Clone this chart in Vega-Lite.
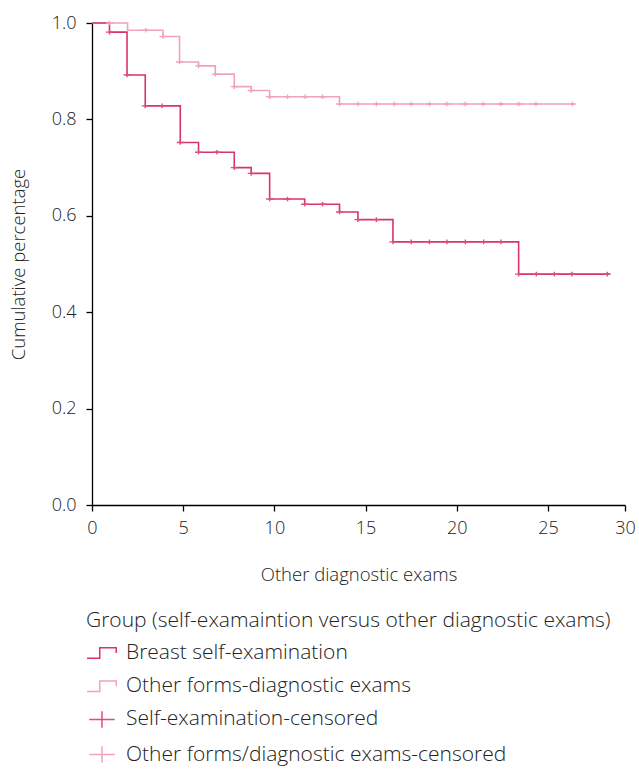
{
  "$schema": "https://vega.github.io/schema/vega-lite/v6.json",
  "autosize": {"type": "none"},
  "padding": {"left": 92, "top": 23, "right": 14, "bottom": 264},
  "width": 533,
  "height": 482,
  "config": {
    "view": {"stroke": null},
    "font": "Open Sans",
    "axis": {"grid": false, "domainColor": "#000", "domainWidth": 1.3, "tickColor": "#000", "tickWidth": 1.3, "tickSize": 6, "labelFont": "Open Sans", "labelFontSize": 18, "labelColor": "#222", "titleFont": "Open Sans", "titleFontSize": 18.5, "titleFontWeight": 300, "titleColor": "#222", "labelFontWeight": 300},
    "legend": {
      "orient": "none", "legendX": -6, "legendY": 587, "direction": "vertical",
      "titleFont": "Open Sans", "titleFontSize": 21, "titleFontWeight": 300, "titleColor": "#222", "titlePadding": 6, "titleLimit": 0,
      "labelFont": "Open Sans", "labelFontSize": 21, "labelFontWeight": 300, "labelColor": "#222", "labelOffset": 8, "labelLimit": 0,
      "symbolSize": 900, "symbolStrokeWidth": 1.5, "rowPadding": 7.2
    }
  },
  "datasets": {
    "steps": [
      {"group": "Other forms-diagnostic exams", "t": 0, "s": 1.0},
      {"group": "Other forms-diagnostic exams", "t": 1.95, "s": 0.985},
      {"group": "Other forms-diagnostic exams", "t": 3.89, "s": 0.972},
      {"group": "Other forms-diagnostic exams", "t": 4.8, "s": 0.919},
      {"group": "Other forms-diagnostic exams", "t": 5.84, "s": 0.911},
      {"group": "Other forms-diagnostic exams", "t": 6.76, "s": 0.894},
      {"group": "Other forms-diagnostic exams", "t": 7.8, "s": 0.868},
      {"group": "Other forms-diagnostic exams", "t": 8.73, "s": 0.86},
      {"group": "Other forms-diagnostic exams", "t": 9.74, "s": 0.847},
      {"group": "Other forms-diagnostic exams", "t": 13.57, "s": 0.832},
      {"group": "Other forms-diagnostic exams", "t": 26.7, "s": 0.832},
      {"group": "Breast self-examination", "t": 0, "s": 1.0},
      {"group": "Breast self-examination", "t": 0.96, "s": 0.981},
      {"group": "Breast self-examination", "t": 1.92, "s": 0.892},
      {"group": "Breast self-examination", "t": 2.92, "s": 0.828},
      {"group": "Breast self-examination", "t": 4.84, "s": 0.752},
      {"group": "Breast self-examination", "t": 5.84, "s": 0.732},
      {"group": "Breast self-examination", "t": 7.8, "s": 0.7},
      {"group": "Breast self-examination", "t": 8.73, "s": 0.688},
      {"group": "Breast self-examination", "t": 9.74, "s": 0.635},
      {"group": "Breast self-examination", "t": 11.66, "s": 0.624},
      {"group": "Breast self-examination", "t": 13.57, "s": 0.608},
      {"group": "Breast self-examination", "t": 14.58, "s": 0.592},
      {"group": "Breast self-examination", "t": 16.5, "s": 0.546},
      {"group": "Breast self-examination", "t": 23.39, "s": 0.479},
      {"group": "Breast self-examination", "t": 29.0, "s": 0.479}
    ],
    "censored": [
      {"group": "Other forms/diagnostic exams-censored", "t": 0.96, "s": 1.0},
      {"group": "Other forms/diagnostic exams-censored", "t": 2.96, "s": 0.985},
      {"group": "Other forms/diagnostic exams-censored", "t": 3.89, "s": 0.972},
      {"group": "Other forms/diagnostic exams-censored", "t": 4.8, "s": 0.919},
      {"group": "Other forms/diagnostic exams-censored", "t": 5.84, "s": 0.911},
      {"group": "Other forms/diagnostic exams-censored", "t": 6.76, "s": 0.894},
      {"group": "Other forms/diagnostic exams-censored", "t": 7.8, "s": 0.868},
      {"group": "Other forms/diagnostic exams-censored", "t": 8.73, "s": 0.86},
      {"group": "Other forms/diagnostic exams-censored", "t": 9.74, "s": 0.847},
      {"group": "Other forms/diagnostic exams-censored", "t": 10.72, "s": 0.847},
      {"group": "Other forms/diagnostic exams-censored", "t": 11.69, "s": 0.847},
      {"group": "Other forms/diagnostic exams-censored", "t": 12.64, "s": 0.847},
      {"group": "Other forms/diagnostic exams-censored", "t": 13.57, "s": 0.832},
      {"group": "Other forms/diagnostic exams-censored", "t": 14.58, "s": 0.832},
      {"group": "Other forms/diagnostic exams-censored", "t": 15.59, "s": 0.832},
      {"group": "Other forms/diagnostic exams-censored", "t": 16.57, "s": 0.832},
      {"group": "Other forms/diagnostic exams-censored", "t": 17.5, "s": 0.832},
      {"group": "Other forms/diagnostic exams-censored", "t": 18.5, "s": 0.832},
      {"group": "Other forms/diagnostic exams-censored", "t": 19.46, "s": 0.832},
      {"group": "Other forms/diagnostic exams-censored", "t": 20.45, "s": 0.832},
      {"group": "Other forms/diagnostic exams-censored", "t": 21.44, "s": 0.832},
      {"group": "Other forms/diagnostic exams-censored", "t": 22.4, "s": 0.832},
      {"group": "Other forms/diagnostic exams-censored", "t": 23.39, "s": 0.832},
      {"group": "Other forms/diagnostic exams-censored", "t": 24.34, "s": 0.832},
      {"group": "Other forms/diagnostic exams-censored", "t": 26.59, "s": 0.832},
      {"group": "Self-examination-censored", "t": 0.96, "s": 0.981},
      {"group": "Self-examination-censored", "t": 1.92, "s": 0.892},
      {"group": "Self-examination-censored", "t": 2.92, "s": 0.828},
      {"group": "Self-examination-censored", "t": 3.84, "s": 0.828},
      {"group": "Self-examination-censored", "t": 4.84, "s": 0.752},
      {"group": "Self-examination-censored", "t": 5.84, "s": 0.732},
      {"group": "Self-examination-censored", "t": 6.85, "s": 0.732},
      {"group": "Self-examination-censored", "t": 7.8, "s": 0.7},
      {"group": "Self-examination-censored", "t": 8.73, "s": 0.688},
      {"group": "Self-examination-censored", "t": 9.74, "s": 0.635},
      {"group": "Self-examination-censored", "t": 10.72, "s": 0.635},
      {"group": "Self-examination-censored", "t": 11.66, "s": 0.624},
      {"group": "Self-examination-censored", "t": 12.64, "s": 0.624},
      {"group": "Self-examination-censored", "t": 13.57, "s": 0.608},
      {"group": "Self-examination-censored", "t": 14.58, "s": 0.592},
      {"group": "Self-examination-censored", "t": 15.59, "s": 0.592},
      {"group": "Self-examination-censored", "t": 16.5, "s": 0.546},
      {"group": "Self-examination-censored", "t": 17.5, "s": 0.546},
      {"group": "Self-examination-censored", "t": 18.5, "s": 0.546},
      {"group": "Self-examination-censored", "t": 19.46, "s": 0.546},
      {"group": "Self-examination-censored", "t": 20.47, "s": 0.546},
      {"group": "Self-examination-censored", "t": 21.47, "s": 0.546},
      {"group": "Self-examination-censored", "t": 22.42, "s": 0.546},
      {"group": "Self-examination-censored", "t": 23.39, "s": 0.479},
      {"group": "Self-examination-censored", "t": 24.36, "s": 0.479},
      {"group": "Self-examination-censored", "t": 25.41, "s": 0.479},
      {"group": "Self-examination-censored", "t": 26.55, "s": 0.479},
      {"group": "Self-examination-censored", "t": 28.85, "s": 0.479}
    ]
  },
  "encoding": {
    "x": {"field": "t", "type": "quantitative",
      "scale": {"domain": [0, 25, 30], "range": [0, 456, 533], "nice": false, "zero": false},
      "axis": {"values": [0, 5, 10, 15, 20, 25, 30], "title": "Other diagnostic exams", "titlePadding": 28, "labelPadding": 8, "labelFlush": false}},
    "y": {"field": "s", "type": "quantitative",
      "scale": {"domain": [0, 1], "nice": false},
      "axis": {"values": [0, 0.2, 0.4, 0.6, 0.8, 1.0], "format": ".1f", "title": "Cumulative percentage", "titlePadding": 23, "labelPadding": 10}}
  },
  "layer": [
    {
      "data": {"name": "steps"},
      "transform": [{"filter": "datum.group === 'Other forms-diagnostic exams'"}],
      "mark": {"type": "line", "interpolate": "step-after", "strokeWidth": 1.6, "color": "#f2a3b6"}
    },
    {
      "data": {"name": "steps"},
      "transform": [{"filter": "datum.group === 'Breast self-examination'"}],
      "mark": {"type": "line", "interpolate": "step-after", "strokeWidth": 1.6, "color": "#d9336b"}
    },
    {
      "data": {"name": "censored"},
      "mark": {"type": "point", "size": 70, "filled": false, "strokeWidth": 1.4, "opacity": 1},
      "encoding": {
        "color": {"field": "group", "type": "nominal",
          "title": "Group (self-examaintion versus other diagnostic exams)",
          "scale": {
            "domain": ["Breast self-examination", "Other forms-diagnostic exams", "Self-examination-censored", "Other forms/diagnostic exams-censored"],
            "range": ["#d9336b", "#f2a3b6", "#de4d7c", "#f2a3b6"]
          }
        },
        "shape": {"field": "group", "type": "nominal",
          "title": "Group (self-examaintion versus other diagnostic exams)",
          "scale": {
            "domain": ["Breast self-examination", "Other forms-diagnostic exams", "Self-examination-censored", "Other forms/diagnostic exams-censored"],
            "range": ["M-1,0.35H-0.15V-0.35H0.95V0", "M-1,0.35H-0.15V-0.35H0.95V0", "M-0.85,0H0.85M0,-0.55V0.55", "M-0.85,0H0.85M0,-0.55V0.55"]
          }
        }
      }
    }
  ]
}
